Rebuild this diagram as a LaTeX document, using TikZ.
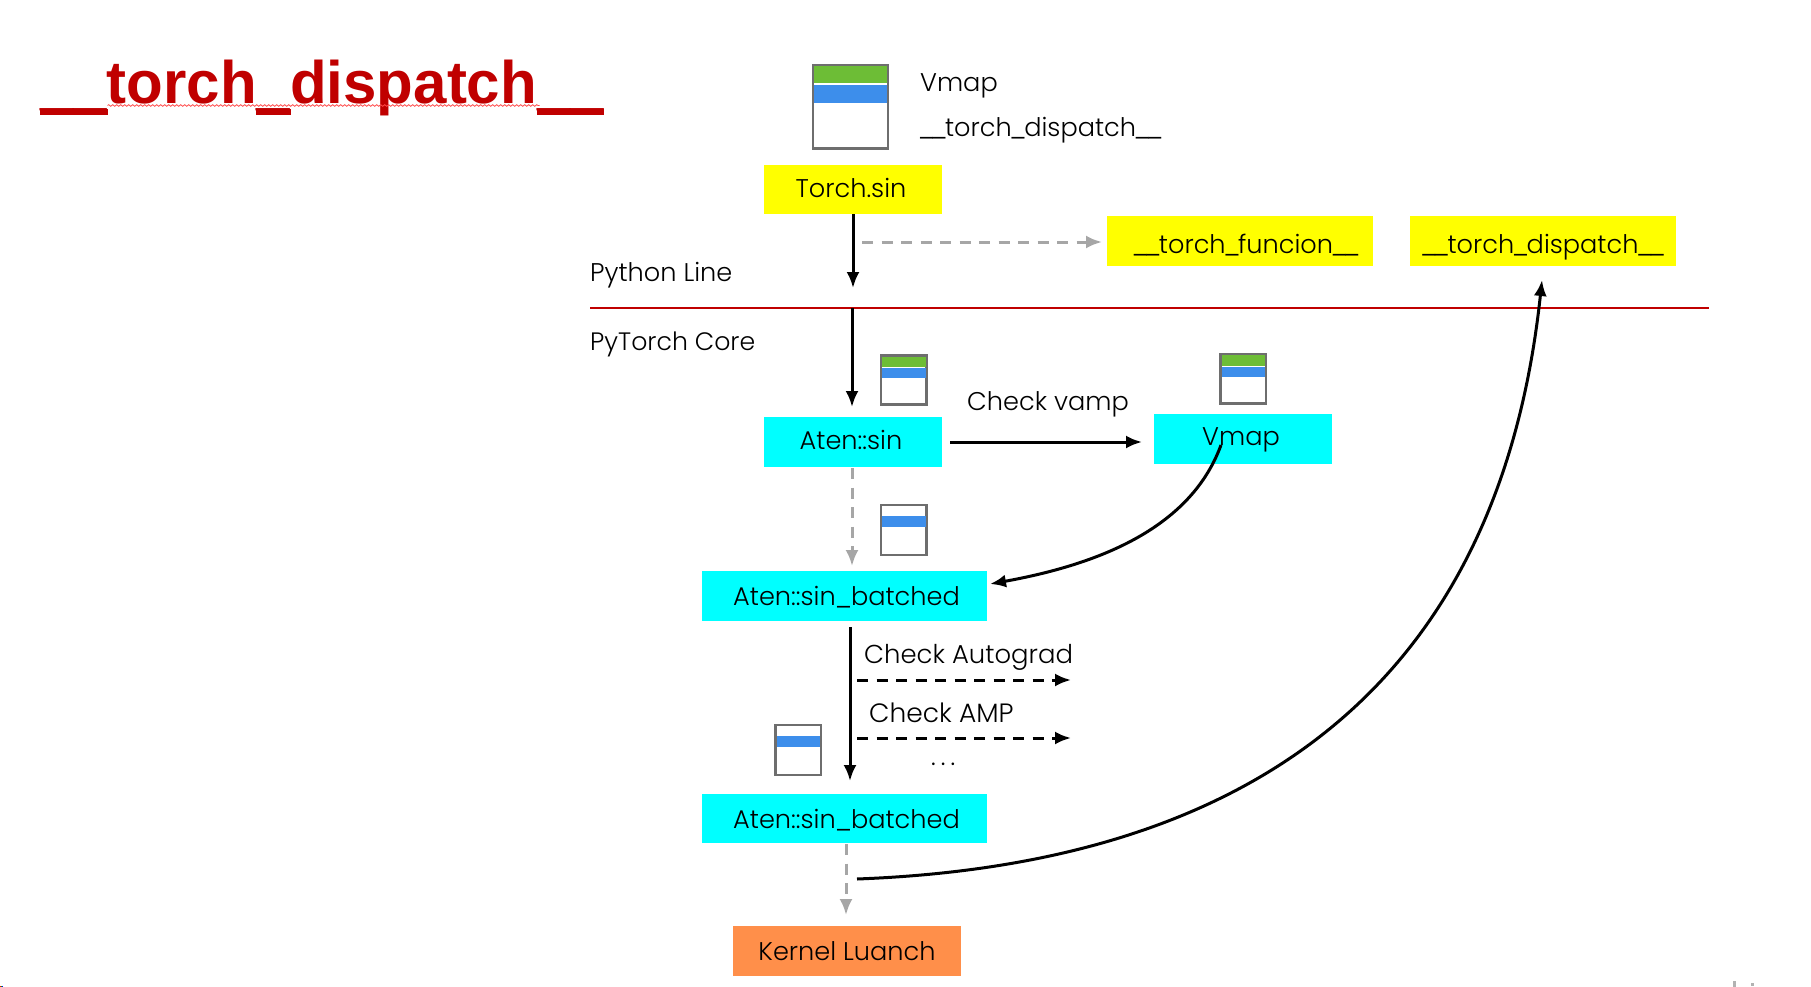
\documentclass[tikz,border=0pt]{standalone}
\usepackage{fontspec}
\setmainfont{Poppins}[UprightFont=* Light]
\newfontfamily\titlefont{Liberation Sans}[BoldFont=* Bold]
\usetikzlibrary{arrows.meta,decorations.pathmorphing}
\definecolor{titlered}{HTML}{C00000}
\definecolor{barg}{HTML}{6DBD36}
\definecolor{barb}{HTML}{3D8EEB}
\definecolor{iconedge}{HTML}{6E6E6E}
\definecolor{dashgrey}{HTML}{A6A6A6}
\definecolor{kernelor}{HTML}{FF8F4A}
\definecolor{boxyellow}{HTML}{FFFF00}
\definecolor{boxcyan}{HTML}{00FFFF}
\newcommand{\us}{\kern-2.4pt\_\kern-2.4pt}
\tikzset{
  lbl/.style={inner sep=0pt,anchor=base west,font=\fontsize{25.6}{30}\selectfont,text=black},
  boxn/.style={inner sep=0pt,font=\fontsize{25.6}{30}\selectfont,text=black,text height=21pt,text depth=6pt},
  ybox/.style={boxn,fill=boxyellow,minimum height=49.5pt},
  cbox/.style={boxn,fill=boxcyan,minimum height=49.5pt},
  obox/.style={boxn,fill=kernelor,minimum height=49.5pt},
  tip/.style={-{Latex[length=16pt,width=13pt]}},
  solidarr/.style={tip,line width=3pt,black},
  dasharr/.style={tip,line width=3pt,black,dash pattern=on 11pt off 8.5pt},
  greyarr/.style={tip,line width=3pt,dashgrey,dash pattern=on 11pt off 8.5pt},
  iconframe/.style={draw=iconedge,line width=2.8pt,fill=white},
}
\begin{document}
\begin{tikzpicture}[x=1pt,y=-1pt]
\useasboundingbox (0,0) rectangle (1811,987);
\fill[white] (0,0) rectangle (1811,987);
% title
\node[inner sep=0pt,anchor=base west,text=titlered,font=\titlefont\bfseries\fontsize{60}{70}\selectfont] (title) at (40,103.5) {\_\_torch\_dispatch\_\_};
\fill[titlered] (39.5,109) rectangle (107.7,114.7);
\fill[titlered] (256,109) rectangle (291,114.7);
\fill[titlered] (536.7,109) rectangle (604.3,114.7);
\draw[red!70!white,line width=0.8pt,decorate,decoration={snake,amplitude=0.8pt,segment length=4pt}] (107.5,105.5) -- (539.5,105.5);
% large icon
\draw[iconframe] (813,65) rectangle (888,148.5);
\fill[barg] (814,66) rectangle (887,83);
\fill[barb] (814,85) rectangle (887,103);
% Aten::sin icon
\draw[iconframe] (881,355.5) rectangle (926.5,404.5);
\fill[barg] (882,356.5) rectangle (925.5,366.5);
\fill[barb] (882,367.5) rectangle (925.5,378);
% Vmap icon
\draw[iconframe] (1220.5,354) rectangle (1266,403.5);
\fill[barg] (1221.5,355) rectangle (1265,365.5);
\fill[barb] (1221.5,366.8) rectangle (1265,377);
% batched icons
\draw[iconframe] (881,505) rectangle (926.5,555);
\fill[barb] (882,516) rectangle (925.5,526.7);
\draw[iconframe] (775.5,725) rectangle (821,775);
\fill[barb] (776.5,736) rectangle (820,746.5);
% boxes
\node[ybox,minimum width=178pt] (torch) at (853,189.5) {\kern -4pt Torch.sin};
\node[ybox,minimum width=266pt] (tfunc) at (1240,241) {\kern 12pt\raisebox{-4.5pt}{\us\us torch\us funcion\us\us}};
\node[ybox,minimum width=266pt] (tdisp) at (1543,241) {\raisebox{-4.5pt}{\us\us torch\us dispatch\us\us}};
\node[cbox,minimum width=178pt] (asin) at (853,442) {\kern -4pt Aten::sin};
\node[cbox,minimum width=178pt] (vmap) at (1243,439) {\kern -4pt\raisebox{1pt}{Vmap}};
\node[cbox,minimum width=285pt] (batch) at (844.5,596) {\kern 4pt\raisebox{-2pt}{Aten::sin\kern-1pt\_\kern-1pt batched}};
\node[cbox,minimum width=285pt] (batchb) at (844.5,818.5) {\kern 4pt\raisebox{-2pt}{Aten::sin\kern-1pt\_\kern-1pt batched}};
\node[obox,minimum width=228pt] (kernel) at (847,951) {\raisebox{-2pt}{Kernel Luanch}};
% labels
\node[lbl] (lvmap) at (920,92) {Vmap};
\node[lbl] (ldisp) at (920,137) {\us\us torch\us dispatch\us\us};
\node[lbl] (lpy) at (590,281) {Python Line};
\node[lbl,font=\fontsize{25.2}{30}\selectfont] (lcore) at (590,350) {PyTorch Core};
\node[lbl] (lcv) at (967,410) {Check vamp};
\node[lbl,font=\fontsize{25.9}{30}\selectfont] (lag) at (864,663) {Check Autograd};
\node[lbl,font=\fontsize{26.5}{30}\selectfont] (lamp) at (869,722) {Check AMP};
\node[lbl] (ldots) at (931,765) {.\kern5pt.\kern5pt.};
% free ends
\coordinate (ctorchend) at (853,288);
\coordinate (cfs) at (862,242);
\coordinate (cfe) at (1102,242);
\coordinate (linel) at (590,308);
\coordinate (liner) at (1709,308);
\coordinate (corest) at (852,308);
\coordinate (coreend) at (852,407);
\coordinate (chs) at (950,442);
\coordinate (che) at (1142,442);
\coordinate (gs) at (852,468);
\coordinate (ge) at (852,566);
\coordinate (cvs) at (1221,445);
\coordinate (cve) at (990,584);
\coordinate (bs) at (850,627);
\coordinate (be) at (850,781);
\coordinate (aus) at (857,680);
\coordinate (aue) at (1071,680);
\coordinate (ams) at (857,738);
\coordinate (ame) at (1071,738);
\coordinate (ks) at (846,844);
\coordinate (ke) at (846,915);
\coordinate (ls) at (857,879);
\coordinate (le) at (1542,280);
% connectors
\draw[titlered,line width=2.2pt] (linel) -- (liner);
\draw[solidarr] (torch.south) -- (ctorchend);
\draw[greyarr] (cfs) -- (cfe);
\draw[solidarr] (corest) -- (coreend);
\draw[solidarr] (chs) -- (che);
\draw[greyarr] (gs) -- (ge);
\draw[solidarr] (cvs) .. controls (1190,530) and (1095,565) .. (cve);
\draw[solidarr] (bs) -- (be);
\draw[dasharr] (aus) -- (aue);
\draw[dasharr] (ams) -- (ame);
\draw[greyarr] (ks) -- (ke);
\draw[solidarr] (ls) .. controls (1230,865) and (1497,703) .. (le);
% edge specks
\fill[red] (0,985.5) rectangle (1,987);
\fill[green!70!black] (1,985.5) rectangle (2,987);
\fill[blue] (2,985.5) rectangle (3,987);
\fill[gray!60] (1733,981) rectangle (1735.5,987);
\fill[gray!60] (1751,982.5) rectangle (1754,985.5);
\end{tikzpicture}
\end{document}
